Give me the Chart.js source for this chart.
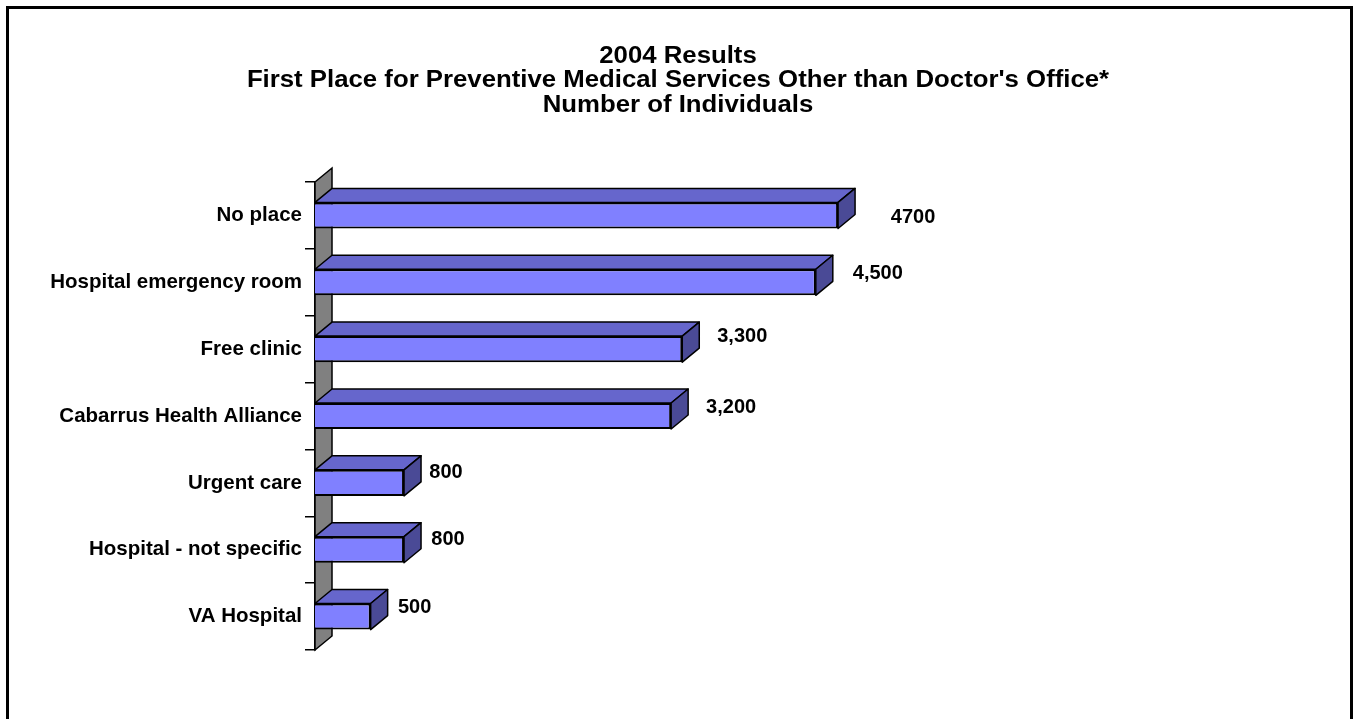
<!DOCTYPE html>
<html>
<head>
<meta charset="utf-8">
<script src="https://cdn.jsdelivr.net/npm/chart.js@4.4.1/dist/chart.umd.min.js"></script>
<style>
  html, body { margin: 0; padding: 0; background: #fff; }
  #wrap { position: relative; width: 1353px; height: 719px; overflow: hidden; }
  #frame { position: absolute; left: 6px; top: 6px; width: 1341px; height: 740px; border: 3px solid #000; pointer-events: none; }
  canvas { position: absolute; left: 0; top: 0; }
</style>
</head>
<body>
<div id="wrap">
  <canvas id="chart" width="1353" height="719"></canvas>
  <div id="frame"></div>
</div>
<script>
// Places people go first for preventive care (other than a doctor's office)
const categories = [
  'No place',
  'Hospital emergency room',
  'Free clinic',
  'Cabarrus Health Alliance',
  'Urgent care',
  'Hospital - not specific',
  'VA Hospital'
];
const individuals = [4700, 4500, 3300, 3200, 800, 800, 500];
const valueText = ['4700', '4,500', '3,300', '3,200', '800', '800', '500'];
const titleLines = [
  '2004 Results',
  "First Place for Preventive Medical Services Other than Doctor's Office*",
  'Number of Individuals'
];

// label placement relative to the end of each bar's front face
const labelDx = [75, 62, 60, 60, 42, 44, 44];
const labelDy = [2, -9, -13, -9, -10, -10, -9];

const FONT = '"Liberation Sans", Arial, Helvetica, sans-serif';
const DEPTH_X = 17, DEPTH_Y = -14;
const FRONT = '#8080FF', TOP = '#6666CC', SIDE = '#4A4A96', WALL = '#808080';

// three-line heading, set in a slightly widened bold face
const headingPlugin = {
  id: 'heading',
  afterDraw(chart) {
    const { ctx } = chart;
    const cx = 678, firstY = 56.5, step = 24.5, stretch = 1.12;
    ctx.save();
    ctx.fillStyle = '#000';
    ctx.font = 'bold 23px ' + FONT;
    ctx.textAlign = 'center';
    ctx.textBaseline = 'middle';
    titleLines.forEach((line, i) => {
      ctx.save();
      ctx.translate(cx, firstY + i * step);
      ctx.scale(stretch, 1);
      ctx.fillText(line, 0, 0);
      ctx.restore();
    });
    ctx.restore();
  }
};

// grey back wall behind the bars, offset by the 3D depth
const wallPlugin = {
  id: 'wall3d',
  beforeDatasetsDraw(chart) {
    const { ctx, chartArea: a } = chart;
    const x0 = a.left, top = a.top, bot = a.bottom;
    ctx.save();
    ctx.beginPath();
    ctx.moveTo(x0, top);
    ctx.lineTo(x0 + DEPTH_X, top + DEPTH_Y);
    ctx.lineTo(x0 + DEPTH_X, bot + DEPTH_Y);
    ctx.lineTo(x0, bot);
    ctx.closePath();
    ctx.fillStyle = WALL;
    ctx.fill();
    ctx.lineWidth = 1.5;
    ctx.strokeStyle = '#000';
    ctx.stroke();
    ctx.restore();
  }
};

// top and end faces of each bar, plus the value labels
const barFacesPlugin = {
  id: 'barFaces',
  afterDatasetsDraw(chart) {
    const { ctx } = chart;
    const meta = chart.getDatasetMeta(0);
    ctx.save();
    ctx.lineWidth = 1.5;
    ctx.strokeStyle = '#000';
    ctx.lineJoin = 'round';
    meta.data.forEach((bar, i) => {
      const x0 = bar.base, x1 = bar.x;
      const t = bar.y - bar.height / 2, b = bar.y + bar.height / 2;
      // top face
      ctx.beginPath();
      ctx.moveTo(x0, t);
      ctx.lineTo(x0 + DEPTH_X, t + DEPTH_Y);
      ctx.lineTo(x1 + DEPTH_X, t + DEPTH_Y);
      ctx.lineTo(x1, t);
      ctx.closePath();
      ctx.fillStyle = TOP;
      ctx.fill();
      ctx.stroke();
      // end face
      ctx.beginPath();
      ctx.moveTo(x1, t);
      ctx.lineTo(x1 + DEPTH_X, t + DEPTH_Y);
      ctx.lineTo(x1 + DEPTH_X, b + DEPTH_Y);
      ctx.lineTo(x1, b);
      ctx.closePath();
      ctx.fillStyle = SIDE;
      ctx.fill();
      ctx.stroke();
      // value label
      ctx.fillStyle = '#000';
      ctx.font = 'bold 20px ' + FONT;
      ctx.textAlign = 'center';
      ctx.textBaseline = 'middle';
      ctx.fillText(valueText[i], x1 + labelDx[i], bar.y + labelDy[i]);
    });
    ctx.restore();
  }
};

new Chart(document.getElementById('chart'), {
  type: 'bar',
  data: {
    labels: categories,
    datasets: [{
      data: individuals,
      backgroundColor: FRONT,
      borderColor: '#000',
      borderWidth: 2,
      borderSkipped: 'start',
      categoryPercentage: 1,
      barPercentage: 0.39
    }]
  },
  options: {
    indexAxis: 'y',
    responsive: false,
    animation: false,
    devicePixelRatio: 1,
    layout: { padding: { left: 6, right: 3, top: 182, bottom: 69 } },
    plugins: {
      legend: { display: false },
      tooltip: { enabled: false },
      title: { display: false }
    },
    scales: {
      x: { display: false, min: 0, max: 9300 },
      y: {
        afterFit(scale) { scale.width = 309; },
        border: { display: true, color: '#000', width: 2 },
        grid: { drawOnChartArea: false, drawTicks: true, tickLength: 10, color: '#000', lineWidth: 1.5, offset: true },
        ticks: { color: '#000', padding: 3, font: { family: FONT, size: 20.5, weight: 'bold' } }
      }
    }
  },
  plugins: [wallPlugin, barFacesPlugin, headingPlugin]
});
</script>
</body>
</html>
